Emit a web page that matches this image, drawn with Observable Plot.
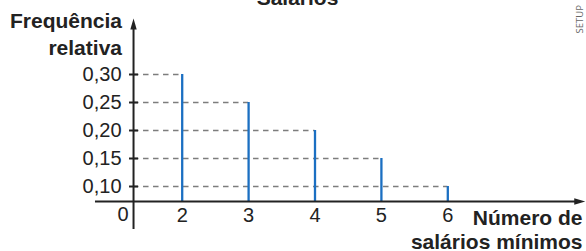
<!DOCTYPE html>
<html>
<head>
<meta charset="utf-8">
<script src="https://cdn.jsdelivr.net/npm/d3@7"></script>
<script src="https://cdn.jsdelivr.net/npm/@observablehq/plot@0.6"></script>
<style>
  html, body { margin: 0; padding: 0; background: #fff; }
</style>
</head>
<body>
<div id="chart"></div>
<script>
// ---- data ----
const salarios = [2, 3, 4, 5, 6];
const frequencias = [0.30, 0.25, 0.20, 0.15, 0.10];
const yTicks = [0.10, 0.15, 0.20, 0.25, 0.30];
const yTickLabels = ["0,10", "0,15", "0,20", "0,25", "0,30"];
const xTickLabels = ["2", "3", "4", "5", "6"];
const titulo = "Salários";
const yLabel = "Frequência\nrelativa";
const xLabel = "Número de\nsalários mínimos";
const credito = "SETUP";

// ---- axis geometry (data units) ----
const xOrigin = 1.267, yOrigin = 0.0732;
const xAxisStart = 0.694, xAxisEnd = 8.07;
const yAxisStart = 0.0232, yAxisEnd = 0.40;

const rows = salarios.map((s, i) => ({s, f: frequencias[i], label: xTickLabels[i]}));
const yRows = yTicks.map((v, i) => ({v, label: yTickLabels[i]}));

const arrowUp = {draw(ctx) { ctx.moveTo(0, 0); ctx.lineTo(-3.2, 11); ctx.lineTo(3.2, 11); ctx.closePath(); }};
const arrowRight = {draw(ctx) { ctx.moveTo(0, 0); ctx.lineTo(-11, -3.2); ctx.lineTo(-11, 3.2); ctx.closePath(); }};
const hTick = {draw(ctx) { ctx.moveTo(-4.5, 0); ctx.lineTo(4.5, 0); }};

const font = "'Liberation Sans', Arial, Helvetica, sans-serif";
const ink = "#222";

const chart = Plot.plot({
  width: 586,
  height: 251,
  margin: 0,
  style: {fontFamily: font, fontSize: "20px", background: "#fff", color: ink, overflow: "visible"},
  x: {domain: [2, 6], range: [181.7, 447.3], axis: null},
  y: {domain: [0.10, 0.30], range: [186, 74], axis: null},
  marks: [
    // dashed guides
    Plot.ruleY(rows, {y: "f", x1: xOrigin, x2: "s", stroke: "#7d7d7d", strokeWidth: 1.6, strokeDasharray: "5.5,4.5"}),
    // blue bars (lines)
    Plot.ruleX(rows, {x: "s", y1: yOrigin, y2: "f", stroke: "#1b6fc2", strokeWidth: 2.3}),
    // axes
    Plot.ruleY([yOrigin], {x1: xAxisStart, x2: xAxisEnd - 0.1, stroke: ink, strokeWidth: 2}),
    Plot.ruleX([xOrigin], {y1: yAxisStart, y2: yAxisEnd - 0.01, stroke: ink, strokeWidth: 2}),
    Plot.dot([0], {x: xAxisEnd, y: yOrigin, symbol: arrowRight, fill: ink, stroke: null}),
    Plot.dot([0], {x: xOrigin, y: yAxisEnd, symbol: arrowUp, fill: ink, stroke: null}),
    // y ticks & labels
    Plot.dot(yRows, {x: xOrigin, y: "v", symbol: hTick, stroke: ink, strokeWidth: 2, fill: "none"}),
    Plot.text(yRows, {x: xOrigin, y: "v", text: "label", textAnchor: "end", dx: -12, fill: ink, fontSize: 20}),
    // x tick labels
    Plot.text(rows, {x: "s", y: yOrigin, text: "label", lineAnchor: "top", dy: 6, fill: ink, fontSize: 20}),
    Plot.text(["0"], {x: xOrigin, y: yOrigin, text: d => d, lineAnchor: "top", textAnchor: "middle", dx: -10.5, dy: 5, fill: ink, fontSize: 20}),
    // axis titles
    Plot.text([yLabel], {frameAnchor: "top-left", dx: 121.5, dy: 54.5, text: d => d, textAnchor: "end", lineAnchor: "bottom", lineHeight: 1.28, fontWeight: "bold", fontSize: 21, fill: ink, style: "letter-spacing:0.3px"}),
    Plot.text([xLabel], {frameAnchor: "top-left", dx: 582, dy: 248, text: d => d, textAnchor: "end", lineAnchor: "bottom", lineHeight: 1.1, fontWeight: "bold", fontSize: 21, fill: ink, style: "letter-spacing:0.3px"}),
    // title (cut at top)
    Plot.text([titulo], {frameAnchor: "top-left", dx: 297, dy: 4, text: d => d, textAnchor: "middle", lineAnchor: "bottom", fontWeight: "bold", fontSize: 21, fill: ink}),
    // credit
    Plot.text([credito], {frameAnchor: "top-left", dx: 579, dy: 33, text: d => d, rotate: -90, textAnchor: "start", lineAnchor: "middle", fontSize: 9.5, fill: "#666", fontFamily: "'Open Sans', sans-serif"})
  ]
});
document.getElementById("chart").appendChild(chart);
</script>
</body>
</html>
